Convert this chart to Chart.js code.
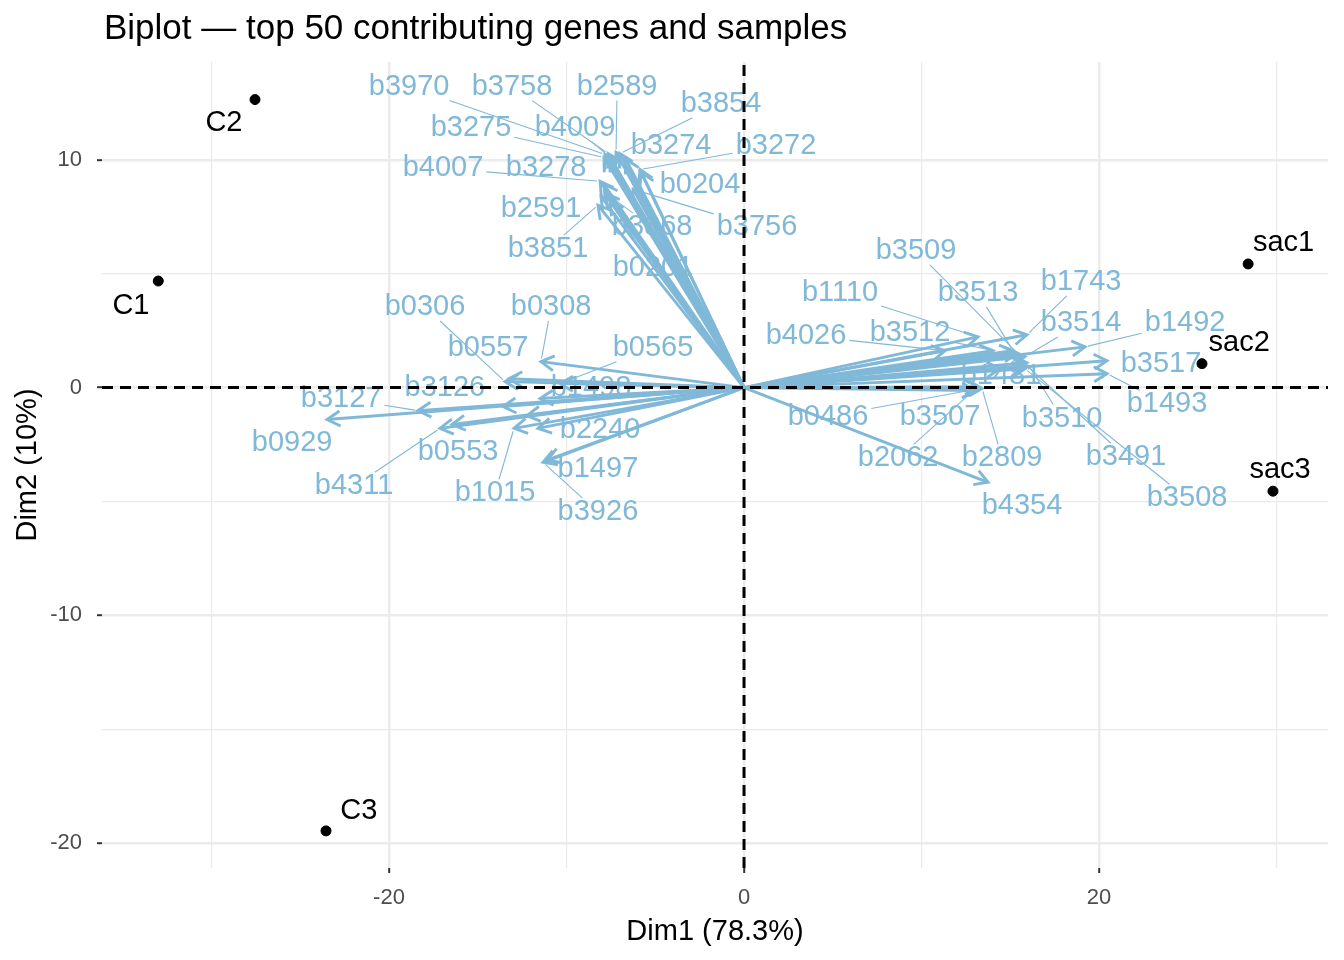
<!DOCTYPE html>
<html>
<head>
<meta charset="utf-8">
<script src="https://cdn.jsdelivr.net/npm/chart.js@4.4.1/dist/chart.umd.min.js"></script>
<style>
  html, body { margin: 0; padding: 0; background: #fff; }
  #wrap { width: 1344px; height: 960px; }
</style>
</head>
<body>
<div id="wrap"><canvas id="biplot" width="1344" height="960"></canvas></div>
<script>
const FONT = "'Liberation Sans', Arial, Helvetica, sans-serif";

// samples (individuals) coordinates on Dim1 / Dim2
const sampleNames = ["C1", "C2", "C3", "sac1", "sac2", "sac3"];
const sampleDim1 = [-33.0, -27.55, -23.55, 28.4, 25.8, 29.8];
const sampleDim2 = [4.68, 12.65, -19.47, 5.43, 1.05, -4.55];
// where the repelled sample labels sit
const sampleLabelX = [-34.54, -29.3, -21.7, 30.4, 27.9, 30.2];
const sampleLabelY = [3.6, 11.6, -18.6, 6.35, 1.97, -3.63];

// top 50 contributing genes, arrow tips
const geneNames = [
  "b3970", "b3758", "b2589", "b3854", "b3275", "b4009", "b3274", "b3272",
  "b4007", "b3278", "b0204", "b2591", "b3868", "b3756", "b3851", "b0201",
  "b0306", "b0557", "b0308", "b0565", "b1498", "b3126", "b3127", "b0929",
  "b0553", "b4311", "b1015", "b2240", "", "b1497", "b3926",
  "b1110", "b1743", "b3509", "b3513", "b4026", "b3512", "b3514", "b1492",
  "b3517", "b1493", "b1481", "b0486", "b3507", "b2062", "b2809", "b3510",
  "b3491", "b3508", "b4354"
];
const geneDim1 = [
  -7.83, -7.66, -7.21, -6.99, -7.89, -7.55, -6.65, -5.86,
  -8.11, -7.89, -5.80, -8.06, -7.77, -6.25, -8.23, -7.55,
  -13.46, -13.24, -11.44, -10.37, -11.49, -13.58, -18.37, -23.49,
  -16.45, -17.13, -12.96, -11.61, -12.23, -11.10, -11.32,
  13.18, 15.94, 15.38, 15.15, 11.32, 14.03, 15.83, 19.21,
  20.45, 20.45, 14.42, 13.30, 13.01, 13.18, 13.41, 15.94,
  15.94, 15.83, 13.75
];
const geneDim2 = [
  10.24, 10.28, 10.33, 10.28, 10.11, 10.11, 10.02, 9.58,
  9.06, 8.93, 9.45, 8.40, 8.53, 8.71, 8.01, 8.18,
  0.26, 0.39, 1.14, 0.18, -0.48, -0.83, -1.01, -1.40,
  -1.62, -1.79, -1.79, -1.79, -1.23, -3.19, -3.28,
  2.23, 2.32, 1.53, 1.62, 1.62, 1.62, 1.36, 1.79,
  1.18, 0.61, 0.83, -0.04, -0.13, 0.04, -0.04, 1.09,
  0.96, 0.83, -4.16
];
// where the repelled gene labels ended up (centre of the text)
const geneLabelX = [
  -18.87, -13.07, -7.15, -1.30, -15.38, -9.52, -4.11, 1.80,
  -16.96, -11.15, -2.48, -11.44, -5.18, 0.73, -11.04, -5.13,
  -17.97, -14.42, -10.87, -5.13, -8.62, -16.85, -22.70, -25.46,
  -16.11, -21.97, -14.03, -8.11, null, -8.23, -8.23,
  5.41, 18.99, 9.69, 13.18, 3.49, 9.35, 18.99, 24.85,
  23.49, 23.83, 14.48, 4.73, 11.04, 8.68, 14.54, 17.92,
  21.52, 24.96, 15.66
];
const geneLabelY = [
  13.22, 13.22, 13.22, 12.47, 11.42, 11.42, 10.63, 10.63,
  9.63, 9.63, 8.88, 7.83, 7.05, 7.05, 6.08, 5.25,
  3.54, 1.75, 3.54, 1.75, -0.04, -0.04, -0.48, -2.45,
  -2.84, -4.33, -4.64, -1.88, null, -3.59, -5.47,
  4.16, 4.64, 6.00, 4.16, 2.28, 2.41, 2.84, 2.84,
  1.05, -0.74, 0.53, -1.27, -1.27, -3.11, -3.11, -1.36,
  -3.06, -4.86, -5.21
];

// axis breaks
const xMajorTicks = [-20, 0, 20];
const xMinorTicks = [-30, -10, 10, 30];
const yMajorTicks = [-20, -10, 0, 10];
const yMinorTicks = [-15, -5, 5];

const arrowColor = "#80b8d8";

const datasets = [{
  label: "samples",
  data: sampleNames.map((n, i) => ({ x: sampleDim1[i], y: sampleDim2[i] })),
  backgroundColor: "#000",
  borderColor: "#000",
  pointRadius: 5,
  pointHoverRadius: 5,
  showLine: false
}];
geneNames.forEach((g, i) => {
  datasets.push({
    label: g,
    data: [{ x: 0, y: 0 }, { x: geneDim1[i], y: geneDim2[i] }],
    showLine: true,
    borderColor: arrowColor,
    borderWidth: 2.9,
    pointRadius: 0,
    pointHoverRadius: 0,
    fill: false
  });
});

// arrow heads, labels, leader segments, dashed origin lines and title
const biplotExtras = {
  id: "biplotExtras",
  afterDatasetsDraw(chart) {
    const { ctx, chartArea: a, scales: { x, y } } = chart;
    const x0 = x.getPixelForValue(0), y0 = y.getPixelForValue(0);
    ctx.save();

    // arrow heads
    ctx.strokeStyle = arrowColor;
    ctx.lineWidth = 2.9;
    geneNames.forEach((g, i) => {
      const x1 = x.getPixelForValue(geneDim1[i]), y1 = y.getPixelForValue(geneDim2[i]);
      const ang = Math.atan2(y1 - y0, x1 - x0);
      const len = 15;
      ctx.beginPath();
      ctx.moveTo(x1 - len * Math.cos(ang - Math.PI / 6), y1 - len * Math.sin(ang - Math.PI / 6));
      ctx.lineTo(x1, y1);
      ctx.lineTo(x1 - len * Math.cos(ang + Math.PI / 6), y1 - len * Math.sin(ang + Math.PI / 6));
      ctx.stroke();
    });

    // sample labels
    ctx.font = "29px " + FONT;
    ctx.textAlign = "center";
    ctx.textBaseline = "middle";
    ctx.fillStyle = "#000";
    sampleNames.forEach((s, i) => {
      ctx.fillText(s, x.getPixelForValue(sampleLabelX[i]), y.getPixelForValue(sampleLabelY[i]));
    });

    // gene labels with leader segments
    ctx.fillStyle = arrowColor;
    ctx.strokeStyle = arrowColor;
    ctx.lineWidth = 1.1;
    geneNames.forEach((g, i) => {
      if (!g || geneLabelX[i] === null) return;
      const lx = x.getPixelForValue(geneLabelX[i]), ly = y.getPixelForValue(geneLabelY[i]);
      const px = x.getPixelForValue(geneDim1[i]), py = y.getPixelForValue(geneDim2[i]);
      const hw = ctx.measureText(g).width / 2 + 3, hh = 14;
      const dx = px - lx, dy = py - ly;
      const t = Math.min(hw / Math.max(Math.abs(dx), 1e-6), hh / Math.max(Math.abs(dy), 1e-6));
      const dist = Math.hypot(dx, dy) * (1 - t);
      if (t < 1 && dist > 22) {
        const sx = lx + dx * t, sy = ly + dy * t;
        const back = 3 / Math.hypot(dx, dy);
        ctx.beginPath();
        ctx.moveTo(sx, sy);
        ctx.lineTo(px - dx * back, py - dy * back);
        ctx.stroke();
      }
      ctx.fillText(g, lx, ly);
    });

    // dashed lines through the origin
    ctx.strokeStyle = "#000";
    ctx.lineWidth = 3;
    ctx.setLineDash([11, 7]);
    ctx.beginPath();
    ctx.moveTo(a.left, y0);
    ctx.lineTo(a.right, y0);
    ctx.stroke();
    ctx.beginPath();
    ctx.moveTo(x0, a.bottom);
    ctx.lineTo(x0, a.top);
    ctx.stroke();
    ctx.setLineDash([]);

    // title
    ctx.fillStyle = "#000";
    ctx.font = "35px " + FONT;
    ctx.textAlign = "left";
    ctx.textBaseline = "middle";
    ctx.fillText("Biplot \u2014 top 50 contributing genes and samples", 104, 29);
    ctx.restore();
  }
};

const gridWidth = (ctx, major) => major.includes(ctx.tick && ctx.tick.value) ? 2.4 : 1.2;
const tickCol = (ctx, major) => major.includes(ctx.tick && ctx.tick.value) ? "#333333" : "rgba(0,0,0,0)";

new Chart(document.getElementById("biplot"), {
  type: "scatter",
  data: { datasets: datasets },
  options: {
    responsive: false,
    animation: false,
    devicePixelRatio: 1,
    layout: { padding: { top: 62, right: 16, bottom: 0, left: 0 } },
    plugins: { legend: { display: false }, tooltip: { enabled: false } },
    scales: {
      x: {
        type: "linear",
        min: -36.17,
        max: 32.9,
        afterBuildTicks: s => { s.ticks = xMajorTicks.concat(xMinorTicks).sort((p, q) => p - q).map(v => ({ value: v })); },
        afterFit: s => { s.height = 92; },
        ticks: {
          autoSkip: false,
          maxRotation: 0,
          padding: 12,
          color: "#4d4d4d",
          font: { family: FONT, size: 22 },
          callback: v => xMajorTicks.includes(v) ? String(v) : ""
        },
        grid: {
          color: "#ebebeb",
          lineWidth: c => gridWidth(c, xMajorTicks),
          tickLength: 5,
          tickWidth: 2,
          tickColor: c => tickCol(c, xMajorTicks)
        },
        border: { display: false },
        title: {
          display: true,
          text: "Dim1 (78.3%)",
          color: "#000",
          font: { family: FONT, size: 29 },
          padding: { top: 0, bottom: 10.6 }
        }
      },
      y: {
        type: "linear",
        min: -21.1,
        max: 14.3,
        afterBuildTicks: s => { s.ticks = yMajorTicks.concat(yMinorTicks).sort((p, q) => p - q).map(v => ({ value: v })); },
        afterFit: s => { s.width = 102; },
        ticks: {
          autoSkip: false,
          padding: 15,
          color: "#4d4d4d",
          font: { family: FONT, size: 22 },
          callback: v => yMajorTicks.includes(v) ? String(v) : ""
        },
        grid: {
          color: "#ebebeb",
          lineWidth: c => gridWidth(c, yMajorTicks),
          tickLength: 5,
          tickWidth: 2,
          tickColor: c => tickCol(c, yMajorTicks)
        },
        border: { display: false },
        title: {
          display: true,
          text: "Dim2 (10%)",
          color: "#000",
          font: { family: FONT, size: 29 },
          padding: { top: 10.6, bottom: 0 }
        }
      }
    }
  },
  plugins: [biplotExtras]
});
</script>
</body>
</html>
